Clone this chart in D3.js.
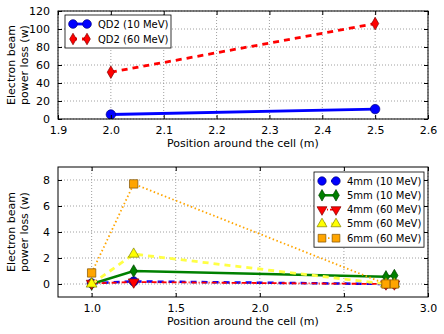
<!DOCTYPE html>
<html>
<head>
<meta charset="utf-8">
<script src="https://cdn.jsdelivr.net/npm/d3@7"></script>
<style>
  body { margin: 0; background: #fff; }
  svg { font-family: "DejaVu Sans", sans-serif; }
  .grid line { stroke: #888; stroke-dasharray: 1,2; stroke-width: 0.8; }
</style>
</head>
<body>
<svg id="chart" width="444" height="334"></svg>
<script>
// top panel data
var topX = [2.0, 2.5];
var qd2_10 = [5, 11];
var qd2_60 = [52, 106];
var topXTicks = [1.9, 2.0, 2.1, 2.2, 2.3, 2.4, 2.5, 2.6];
var topYTicks = [0, 20, 40, 60, 80, 100, 120];

// bottom panel data
var botX = [1.0, 1.25, 2.75, 2.8];
var mm4_10 = [0.05, 0.2, 0.0, 0.0];
var mm5_10 = [0.0, 1.0, 0.55, 0.65];
var mm4_60 = [0.05, 0.15, 0.0, 0.0];
var mm5_60 = [0.0, 2.3, 0.0, 0.0];
var mm6_60 = [0.85, 7.7, 0.0, 0.0];
var botXTicks = [1.0, 1.5, 2.0, 2.5, 3.0];
var botYTicks = [0, 2, 4, 6, 8];

var svg = d3.select("#chart");

function symbolFor(kind, size) {
  var t = {circle: d3.symbolCircle, diamond: d3.symbolDiamond, square: d3.symbolSquare,
           triangle: d3.symbolTriangle, down: d3.symbolTriangle}[kind];
  return d3.symbol().type(t).size(size)();
}

function drawMarker(g, kind, x, y, m, scale) {
  var tr = "translate(" + x + "," + y + ")";
  if (kind == "down") tr += " rotate(180)";
  g.append("path")
    .attr("d", symbolFor(kind, m.size * (scale || 1)))
    .attr("fill", m.fill)
    .attr("stroke", m.edge)
    .attr("stroke-width", 0.7)
    .attr("transform", tr);
}

function panel(opt) {
  var g = svg.append("g");
  var x = d3.scaleLinear().domain(opt.xDomain).range([opt.left, opt.right]);
  var y = d3.scaleLinear().domain(opt.yDomain).range([opt.bottom, opt.top]);

  // grid
  var grid = g.append("g").attr("class", "grid");
  opt.xTicks.forEach(function(t) {
    grid.append("line").attr("x1", x(t)).attr("x2", x(t)).attr("y1", opt.top).attr("y2", opt.bottom);
  });
  opt.yTicks.forEach(function(t) {
    grid.append("line").attr("x1", opt.left).attr("x2", opt.right).attr("y1", y(t)).attr("y2", y(t));
  });

  // series
  var clip = "clip" + opt.id;
  g.append("clipPath").attr("id", clip).append("rect")
    .attr("x", opt.left).attr("y", opt.top)
    .attr("width", opt.right - opt.left).attr("height", opt.bottom - opt.top);
  var sg = g.append("g").attr("clip-path", "url(#" + clip + ")");
  var line = d3.line().x(function(d) { return x(d[0]); }).y(function(d) { return y(d[1]); });
  opt.series.forEach(function(s) {
    var pts = s.xs.map(function(v, i) { return [v, s.ys[i]]; });
    sg.append("path").attr("d", line(pts))
      .attr("fill", "none")
      .attr("stroke", s.color)
      .attr("stroke-width", s.width)
      .attr("stroke-dasharray", s.dash || null);
    pts.forEach(function(p) { drawMarker(sg, s.marker, x(p[0]), y(p[1]), s); });
  });

  // frame + axes
  var xa = g.append("g").attr("transform", "translate(0," + opt.bottom + ")")
    .call(d3.axisBottom(x).tickValues(opt.xTicks).tickSizeInner(-4).tickSizeOuter(0).tickPadding(7).tickFormat(d3.format(".1f")));
  var ya = g.append("g").attr("transform", "translate(" + opt.left + ",0)")
    .call(d3.axisLeft(y).tickValues(opt.yTicks).tickSizeInner(-4).tickSizeOuter(0).tickPadding(8).tickFormat(d3.format("d")));
  var xt = g.append("g").attr("transform", "translate(0," + opt.top + ")")
    .call(d3.axisTop(x).tickValues(opt.xTicks).tickSizeInner(-4).tickSizeOuter(0).tickFormat(""));
  var yr = g.append("g").attr("transform", "translate(" + opt.right + ",0)")
    .call(d3.axisRight(y).tickValues(opt.yTicks).tickSizeInner(-4).tickSizeOuter(0).tickFormat(""));
  [xa, ya, xt, yr].forEach(function(a) {
    a.select(".domain").remove();
    a.selectAll("text").attr("font-size", 11).attr("font-family", "DejaVu Sans").attr("fill", "#000");
    a.selectAll("line").attr("stroke", "#000");
  });
  g.append("rect").attr("x", opt.left).attr("y", opt.top)
    .attr("width", opt.right - opt.left).attr("height", opt.bottom - opt.top)
    .attr("fill", "none").attr("stroke", "#000").attr("stroke-width", 1);

  // labels
  g.append("text").attr("x", (opt.left + opt.right) / 2).attr("y", opt.bottom + 28)
    .attr("text-anchor", "middle").attr("font-size", 11).text("Position around the cell (m)");
  var cy = (opt.top + opt.bottom) / 2;
  g.append("text").attr("transform", "translate(15," + cy + ") rotate(-90)")
    .attr("text-anchor", "middle").attr("font-size", 11).text("Electron beam");
  g.append("text").attr("transform", "translate(28," + cy + ") rotate(-90)")
    .attr("text-anchor", "middle").attr("font-size", 11).text("power loss (w)");

  // legend
  var L = opt.legend;
  var lg = g.append("g");
  lg.append("rect").attr("x", L.x).attr("y", L.y).attr("width", L.w)
    .attr("height", (opt.series.length - 1) * L.step + 18)
    .attr("fill", "#fff").attr("stroke", "#000").attr("stroke-width", 0.8);
  opt.series.forEach(function(s, i) {
    var yy = L.y + 9 + i * L.step;
    lg.append("line").attr("x1", L.x + 8).attr("x2", L.x + 22).attr("y1", yy).attr("y2", yy)
      .attr("stroke", s.color).attr("stroke-width", s.width)
      .attr("stroke-dasharray", s.dash || null)
      .attr("stroke-dashoffset", s.dash ? 2 : null);
    drawMarker(lg, s.marker, L.x + 8, yy, s, 0.85);
    drawMarker(lg, s.marker, L.x + 22, yy, s, 0.85);
    lg.append("text").attr("x", L.x + 33).attr("y", yy + 3.5).attr("font-size", 10).text(s.name);
  });
}

panel({
  id: "a", left: 58, right: 428, top: 11, bottom: 119,
  xDomain: [1.9, 2.6], yDomain: [0, 120], xTicks: topXTicks, yTicks: topYTicks,
  series: [
    {name: "QD2 (10 MeV)", xs: topX, ys: qd2_10, color: "#0000ff", width: 2.8, marker: "circle", size: 70, fill: "#0000ff", edge: "#000080"},
    {name: "QD2 (60 MeV)", xs: topX, ys: qd2_60, color: "#ff0000", width: 2.8, dash: "6,5", marker: "diamond", size: 45, fill: "#ff0000", edge: "#800000"}
  ],
  legend: {x: 65, y: 15, w: 106, step: 15}
});

panel({
  id: "b", left: 58, right: 428, top: 167, bottom: 297,
  xDomain: [0.8, 3.0], yDomain: [-1, 9], xTicks: botXTicks, yTicks: botYTicks,
  series: [
    {name: "4mm (10 MeV)", xs: botX, ys: mm4_10, color: "#0000ff", width: 2.5, dash: "6,5", marker: "circle", size: 65, fill: "#0000ff", edge: "#000080"},
    {name: "5mm (10 MeV)", xs: botX, ys: mm5_10, color: "#008000", width: 2.5, marker: "diamond", size: 45, fill: "#008000", edge: "#004000"},
    {name: "4mm (60 MeV)", xs: botX, ys: mm4_60, color: "#ff0000", width: 1.8, dash: "5,2,1,2", marker: "down", size: 50, fill: "#ff0000", edge: "#800000"},
    {name: "5mm (60 MeV)", xs: botX, ys: mm5_60, color: "#ffff44", width: 2.8, dash: "6,5", marker: "triangle", size: 50, fill: "#ffff00", edge: "#808000"},
    {name: "6mm (60 MeV)", xs: botX, ys: mm6_60, color: "#ffa500", width: 1.8, dash: "1.5,2.5", marker: "square", size: 70, fill: "#ffa500", edge: "#805200"}
  ],
  legend: {x: 314, y: 172, w: 110, step: 14.3}
});
</script>
</body>
</html>
